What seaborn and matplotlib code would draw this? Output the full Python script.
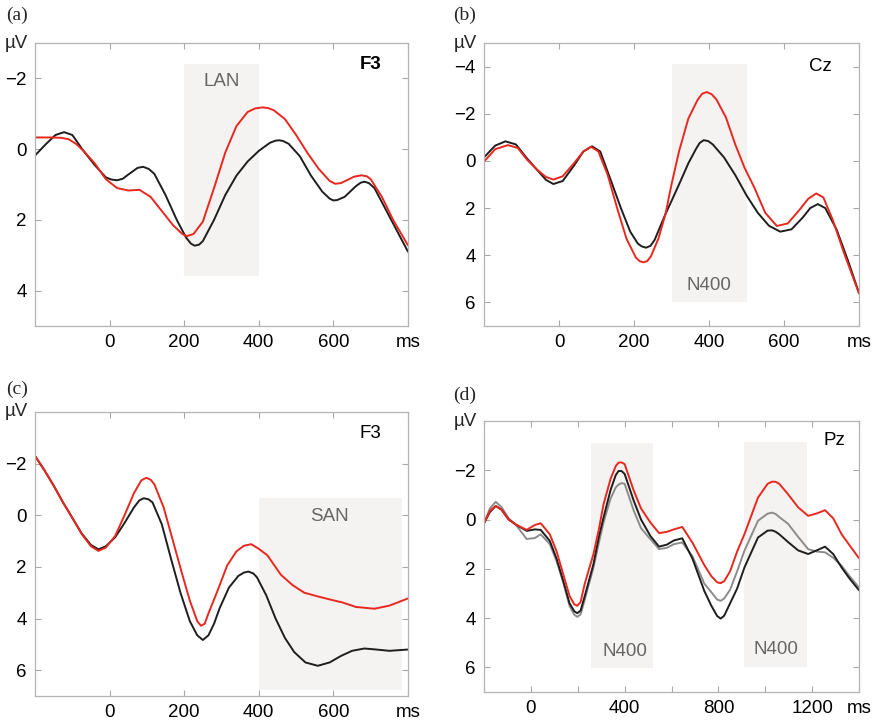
import numpy as np
import pandas as pd
import matplotlib
matplotlib.use("Agg")
import matplotlib.pyplot as plt
import seaborn as sns

# ---------------- data ----------------
# Panel (a) F3 (LAN)
a_t_black = [-200, -170, -145, -122, -100, -70, -40, -10, 5, 20, 35, 50, 75, 90, 105, 120, 150, 180, 205, 218, 228, 240, 250, 280, 310, 340,
             370, 400, 430, 445, 455, 465, 480, 510, 540, 570, 590, 600, 610, 630, 660, 673, 683, 695, 710, 740, 770, 800]
a_v_black = [0.18, -0.15, -0.4, -0.48, -0.4, 0.05, 0.45, 0.8, 0.86, 0.88, 0.84, 0.72, 0.53, 0.5, 0.56, 0.7, 1.3, 2.0, 2.5, 2.67, 2.73, 2.7, 2.6, 2.0, 1.3, 0.75,
             0.35, 0.05, -0.18, -0.24, -0.25, -0.23, -0.15, 0.2, 0.75, 1.2, 1.4, 1.45, 1.44, 1.35, 1.05, 0.95, 0.92, 0.96, 1.1, 1.7, 2.3, 2.9]
a_t_red = [-200, -160, -130, -110, -90, -70, -40, -10, 20, 50, 80, 110, 140, 170, 195, 207, 225, 250, 280, 310,
           340, 370, 390, 410, 425, 440, 470, 500, 530, 560, 590, 605, 620, 640, 655, 675, 690, 700, 730, 760, 800]
a_v_red = [-0.33, -0.33, -0.32, -0.28, -0.15, 0.05, 0.4, 0.85, 1.1, 1.17, 1.15, 1.35, 1.75, 2.15, 2.4, 2.46, 2.4, 2.05, 1.1, 0.1,
           -0.65, -1.05, -1.15, -1.18, -1.16, -1.1, -0.85, -0.4, 0.1, 0.55, 0.9, 0.98, 0.96, 0.86, 0.78, 0.74, 0.77, 0.85, 1.35, 2.0, 2.72]

# Panel (b) Cz (N400)
b_t_black = [-200, -170, -143, -115, -85, -60, -35, -15, 10, 40, 65, 88, 110, 140, 165, 190, 210, 220, 232, 244, 255, 284,
             300, 320, 345, 365, 375, 386, 398, 410, 440, 470, 500, 530, 560, 590, 620, 650, 670, 690, 710, 740, 770, 800]
b_v_black = [-0.15, -0.65, -0.83, -0.7, -0.1, 0.35, 0.8, 0.98, 0.85, 0.2, -0.4, -0.62, -0.4, 0.9, 2.0, 3.0, 3.5, 3.62, 3.68, 3.6, 3.35, 2.25,
             1.7, 1.0, 0.1, -0.5, -0.76, -0.88, -0.84, -0.7, -0.15, 0.6, 1.46, 2.2, 2.75, 3.0, 2.9, 2.4, 2.0, 1.83, 2.0, 2.9, 4.2, 5.6]
b_t_red = [-200, -170, -136, -110, -85, -60, -35, -15, 10, 40, 65, 85, 105, 130, 155, 180, 205, 215, 225, 235, 245, 265,
           284, 300, 320, 345, 370, 382, 394, 407, 420, 445, 470, 495, 520, 550, 581, 610, 640, 665, 686, 705, 730, 760, 800]
b_v_red = [0.03, -0.5, -0.67, -0.55, -0.05, 0.35, 0.68, 0.79, 0.65, 0.1, -0.4, -0.6, -0.4, 0.6, 2.0, 3.3, 4.1, 4.25, 4.3, 4.25, 4.05, 3.3,
           2.25, 1.0, -0.4, -1.8, -2.6, -2.85, -2.92, -2.83, -2.6, -1.85, -0.7, 0.3, 1.1, 2.2, 2.76, 2.65, 2.1, 1.6, 1.38, 1.55, 2.5, 3.9, 5.62]

# Panel (c) F3 (SAN)
c_t_black = [-200, -175, -150, -125, -100, -75, -50, -30, -10, 15, 40, 65, 80, 92, 104, 115, 140, 165, 190, 215, 235, 250,
             265, 280, 295, 320, 345, 360, 372, 385, 395, 420, 445, 470, 495, 525, 558, 590, 620, 650, 683, 715, 750, 800]
c_v_black = [-2.3, -1.75, -1.15, -0.5, 0.1, 0.7, 1.15, 1.32, 1.2, 0.85, 0.3, -0.3, -0.58, -0.66, -0.62, -0.5, 0.35, 1.7, 3.0, 4.1, 4.65, 4.83,
             4.65, 4.2, 3.6, 2.8, 2.35, 2.22, 2.18, 2.25, 2.4, 3.1, 4.0, 4.75, 5.3, 5.7, 5.83, 5.7, 5.45, 5.25, 5.16, 5.2, 5.25, 5.2]
c_t_red = [-200, -175, -150, -125, -100, -75, -50, -30, -10, 15, 40, 65, 85, 98, 110, 120, 145, 170, 195, 215, 235, 245,
           255, 265, 290, 315, 340, 360, 380, 400, 423, 459, 490, 522, 560, 593, 625, 660, 710, 750, 800]
c_v_red = [-2.3, -1.75, -1.15, -0.5, 0.1, 0.72, 1.2, 1.38, 1.25, 0.8, 0.0, -0.85, -1.35, -1.45, -1.38, -1.2, -0.3, 1.0, 2.3, 3.3, 4.1, 4.28,
           4.2, 3.8, 2.9, 1.95, 1.4, 1.18, 1.12, 1.3, 1.55, 2.3, 2.7, 3.0, 3.15, 3.27, 3.38, 3.55, 3.62, 3.5, 3.22]

# Panel (d) Pz (two N400 windows)
d_t = [-200, -175, -150, -125, -95, -61, -18, 17, 42, 81, 110, 138, 165, 185, 198, 212, 230, 267, 290, 310, 340, 362, 374,
       387, 400, 439, 470, 510, 547, 580, 610, 646, 690, 740, 770, 795, 810, 825, 850, 880, 911, 969, 1010, 1030, 1045, 1060, 1097, 1140,
       1183, 1220, 1255, 1290, 1326, 1360, 1400]
d_v_black = [0.15, -0.3, -0.55, -0.4, 0.0, 0.22, 0.46, 0.4, 0.42, 0.87, 1.6, 2.49, 3.4, 3.72, 3.8, 3.7, 3.1, 1.81, 0.7, -0.08, -1.2, -1.8, -1.97,
             -1.97, -1.85, -0.76, 0.0, 0.67, 1.1, 1.02, 0.85, 0.76, 1.6, 2.9, 3.5, 3.92, 4.02, 3.9, 3.4, 2.8, 1.95, 0.73, 0.45, 0.44, 0.5, 0.6, 0.91, 1.25,
             1.4, 1.25, 1.1, 1.4, 1.95, 2.4, 2.87]
d_v_grey = [0.15, -0.45, -0.72, -0.5, -0.05, 0.25, 0.79, 0.75, 0.6, 1.0, 1.7, 2.55, 3.5, 3.86, 3.95, 3.85, 3.25, 1.95, 0.95, 0.12, -0.85, -1.3, -1.42,
            -1.48, -1.45, -0.36, 0.35, 0.8, 1.2, 1.15, 1.0, 0.93, 1.5, 2.6, 2.95, 3.25, 3.3, 3.2, 2.85, 2.1, 1.27, 0.05, -0.24, -0.28, -0.22, -0.1, 0.17, 0.7,
            1.2, 1.3, 1.33, 1.55, 1.88, 2.3, 2.76]
d_v_red = [0.15, -0.35, -0.55, -0.4, 0.0, 0.22, 0.42, 0.22, 0.15, 0.6, 1.3, 2.22, 3.1, 3.44, 3.5, 3.35, 2.6, 1.4, 0.4, -0.62, -1.65, -2.17, -2.31,
           -2.32, -2.25, -1.17, -0.45, 0.12, 0.55, 0.5, 0.4, 0.3, 0.95, 1.85, 2.3, 2.55, 2.58, 2.5, 2.1, 1.3, 0.6, -0.89, -1.45, -1.54, -1.53, -1.45, -1.03, -0.5,
           -0.15, -0.25, -0.38, -0.05, 0.6, 1.05, 1.57]

panel_labels = ["(a)", "(b)", "(c)", "(d)"]
electrodes = ["F3", "Cz", "F3", "Pz"]
shade_names = ["LAN", "N400", "SAN", "N400"]

# ---------------- style ----------------
RED = "#e8281e"
BLACK = "#1e1e1e"
GREY = "#8c8c8c"
SHADE = "#f5f3f1"
SPINE = "#b3b3b3"
TXTGREY = "#666666"

sns.set_theme(style="white")
plt.rcParams["font.family"] = ["Liberation Sans", "DejaVu Sans"]

fig = plt.figure(figsize=(8.72, 7.26), dpi=100)
W, H = 872, 726


def px_axes(l, t, r, b):
    return fig.add_axes([l / W, 1 - b / H, (r - l) / W, (b - t) / H])


ax_a = px_axes(35, 43, 408, 326)
ax_b = px_axes(484, 43, 859, 326)
ax_c = px_axes(35, 412, 408, 696)
ax_d = px_axes(484, 421, 859, 692)


def make_df(pairs):
    frames = []
    for name, t, v in pairs:
        frames.append(pd.DataFrame({"t": t, "v": v, "cond": name}))
    return pd.concat(frames, ignore_index=True)


def style_axes(ax, xlim, ylim, xticks, xlabels, yticks):
    ax.set_xlim(*xlim)
    ax.set_ylim(*ylim)
    ax.set_xticks(xticks)
    ax.set_xticklabels(xlabels)
    ax.set_yticks(yticks)
    ax.set_yticklabels([f"{y}".replace("-", "\u2212") for y in yticks])
    ax.set_xlabel("")
    ax.set_ylabel("")
    for s in ax.spines.values():
        s.set_visible(True)
        s.set_color(SPINE)
        s.set_linewidth(0.9)
    ax.tick_params(axis="both", which="major", direction="in", length=4, width=0.8, color="#a8a8a8",
                   top=True, right=True, bottom=True, left=True,
                   labelsize=13.5, pad=6, labelcolor="black")
    ax.annotate("\u00b5V", xy=(0, 1), xycoords="axes fraction", xytext=(-5, 0),
                textcoords="offset points", ha="right", va="center", fontsize=13.5)


def draw(ax, df, palette, order):
    sns.lineplot(data=df, x="t", y="v", hue="cond", hue_order=order, palette=palette,
                 ax=ax, linewidth=1.4, legend=False, sort=False, estimator=None,
                 solid_joinstyle="round", solid_capstyle="round")


# (a)
ax_a.axvspan(200, 400, ymin=(5 - 3.6) / 8, ymax=(5 + 2.4) / 8, color=SHADE, lw=0, zorder=0)
df_a = make_df([("black", a_t_black, a_v_black), ("red", a_t_red, a_v_red)])
draw(ax_a, df_a, {"black": BLACK, "red": RED}, ["black", "red"])
style_axes(ax_a, (-200, 800), (5, -3), [0, 200, 400, 600, 800], ["0", "200", "400", "600", "ms"], [-2, 0, 2, 4])
ax_a.text(300, -1.9, shade_names[0], color=TXTGREY, fontsize=13.5, ha="center", va="center")
ax_a.text(700, -2.4, electrodes[0], color="black", fontsize=13.5, ha="center", va="center", fontweight="bold")

# (b)
ax_b.axvspan(300, 500, ymin=(7 - 6.0) / 12, ymax=(7 + 4.1) / 12, color=SHADE, lw=0, zorder=0)
df_b = make_df([("black", b_t_black, b_v_black), ("red", b_t_red, b_v_red)])
draw(ax_b, df_b, {"black": BLACK, "red": RED}, ["black", "red"])
style_axes(ax_b, (-200, 800), (7, -5), [0, 200, 400, 600, 800], ["0", "200", "400", "600", "ms"], [-4, -2, 0, 2, 4, 6])
ax_b.text(400, 5.27, shade_names[1], color=TXTGREY, fontsize=13.5, ha="center", va="center")
ax_b.text(697, -4.0, electrodes[1], color="black", fontsize=13.5, ha="center", va="center")

# (c)
ax_c.axvspan(400, 783, ymin=(7 - 6.77) / 11, ymax=(7 + 0.68) / 11, color=SHADE, lw=0, zorder=0)
df_c = make_df([("black", c_t_black, c_v_black), ("red", c_t_red, c_v_red)])
draw(ax_c, df_c, {"black": BLACK, "red": RED}, ["black", "red"])
style_axes(ax_c, (-200, 800), (7, -4), [0, 200, 400, 600, 800], ["0", "200", "400", "600", "ms"], [-2, 0, 2, 4, 6])
ax_c.text(588, 0.03, shade_names[2], color=TXTGREY, fontsize=13.5, ha="center", va="center")
ax_c.text(700, -3.17, electrodes[2], color="black", fontsize=13.5, ha="center", va="center")

# (d)
ax_d.axvspan(257, 521, ymin=(7 - 6.02) / 11, ymax=(7 + 3.11) / 11, color=SHADE, lw=0, zorder=0)
ax_d.axvspan(911, 1176, ymin=(7 - 6.0) / 11, ymax=(7 + 3.15) / 11, color=SHADE, lw=0, zorder=0)
df_d = make_df([("grey", d_t, d_v_grey), ("black", d_t, d_v_black), ("red", d_t, d_v_red)])
draw(ax_d, df_d, {"grey": GREY, "black": BLACK, "red": RED}, ["grey", "black", "red"])
style_axes(ax_d, (-200, 1400), (7, -4), list(range(-200, 1401, 200)),
           ["", "0", "", "400", "", "800", "", "1200", "ms"], [-2, 0, 2, 4, 6])
ax_d.text(400, 5.37, shade_names[3], color=TXTGREY, fontsize=13.5, ha="center", va="center")
ax_d.text(1047, 5.29, shade_names[3], color=TXTGREY, fontsize=13.5, ha="center", va="center")
ax_d.text(1297, -3.2, electrodes[3], color="black", fontsize=13.5, ha="center", va="center")

# panel labels
for lab, (x, y) in zip(panel_labels, [(6, 15), (453, 15), (6, 389), (453, 395)]):
    fig.text(x / W, 1 - y / H, lab, fontsize=14, family=["Liberation Serif", "DejaVu Serif"],
             ha="left", va="center")

fig.savefig("out.png", dpi=100)
